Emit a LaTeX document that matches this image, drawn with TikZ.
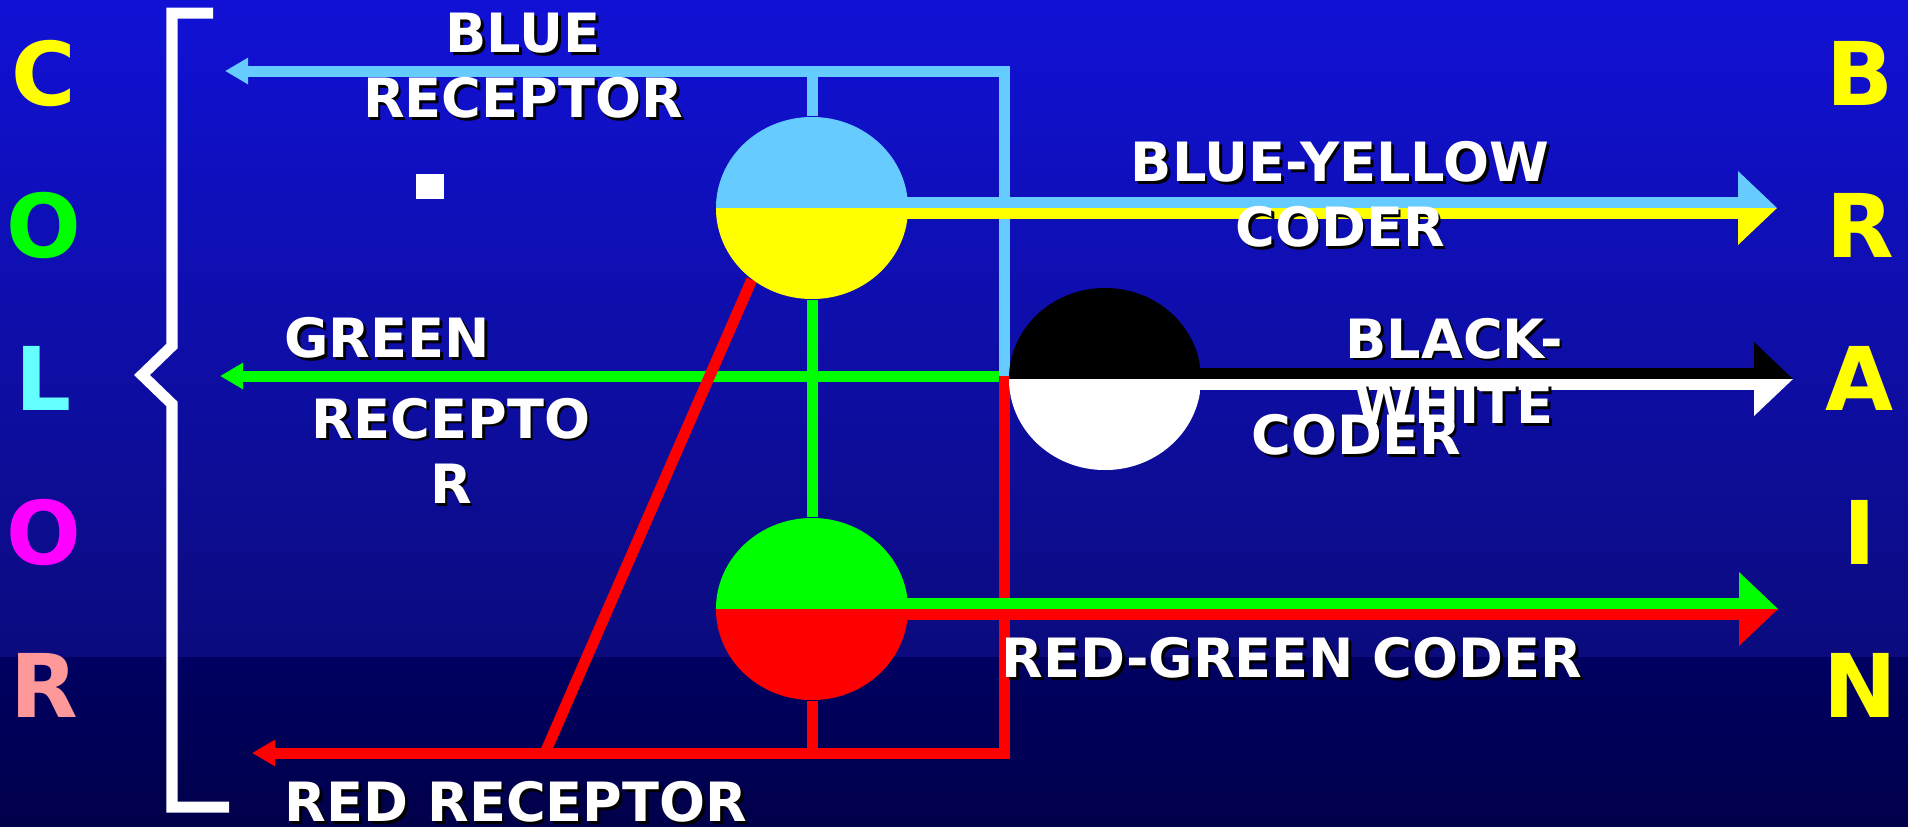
\documentclass[tikz,border=0pt]{standalone}
\usepackage{fontspec}
\setmainfont{DejaVu Sans}
\usetikzlibrary{shapes.geometric, arrows.meta, calc, backgrounds}

\definecolor{skyblue}{RGB}{102,204,255}
\definecolor{lcyan}{RGB}{102,255,255}
\definecolor{lpink}{RGB}{255,153,153}
\definecolor{pyellow}{RGB}{255,255,0}
\definecolor{pgreen}{RGB}{0,255,0}
\definecolor{pred}{RGB}{255,0,0}
\definecolor{pmagenta}{RGB}{255,0,255}
\definecolor{bgtop}{RGB}{17,17,214}
\definecolor{bgmid}{RGB}{11,11,126}
\definecolor{bglow}{RGB}{0,0,98}
\definecolor{bgbot}{RGB}{0,0,74}

\newcommand\shd[1]{\leavevmode\rlap{\kern0.8pt\raisebox{-0.8pt}{\color{black}#1}}#1}

\begin{document}
\begin{tikzpicture}[x=0.01cm, y=-0.01cm,
    wire/.style={line width=0.11cm, line join=miter},
    recv/.style={wire, -{Triangle[length=0.23cm, width=0.25cm]}},
    coder/.style 2 args={ellipse, minimum width=1.92cm, minimum height=1.82cm, inner sep=0pt,
      path picture={
        \fill[#1] (path picture bounding box.north west) rectangle (path picture bounding box.east);
        \fill[#2] (path picture bounding box.west) rectangle (path picture bounding box.south east);}},
    lbl/.style={text=white, align=center, inner sep=0pt, font=\bfseries\fontsize{15.4}{18.5}\selectfont},
    bigl/.style={inner sep=0pt, font=\bfseries\fontsize{25}{30}\selectfont},
]
\useasboundingbox (0,0) rectangle (1908,826);

% the three coders
\node[coder={skyblue}{pyellow}] (by) at (812,208) {};
\node[coder={black}{white}] (bw) at (1105,379) {};
\node[coder={pgreen}{pred}] (rg) at (812,609) {};

% wire ends
\coordinate (hub) at (1004,376);
\coordinate (bluecorner) at (1004,71);
\coordinate (bluetip) at (225,71);
\coordinate (greentip) at (220,376);
\coordinate (redcorner) at (1004,753);
\coordinate (redtip) at (252,753);
\coordinate (redfoot) at (545,753);
\coordinate (tip-by) at (1777,208);
\coordinate (tip-bw) at (1793,379);
\coordinate (tip-rg) at (1778,609);

\begin{scope}[on background layer]
  \shade[top color=bgtop, bottom color=bgmid] (0,0) rectangle (1908,657);
  \shade[top color=bglow, bottom color=bgbot] (0,657) rectangle (1908,826);

  % receptor wires
  \draw[recv, pgreen] (hub) -- (greentip);
  \draw[recv, skyblue] (hub) -- (bluecorner) -- (bluetip);
  \draw[recv, pred] (hub) -- (redcorner) -- (redtip);
  \draw[wire, skyblue] (by) -- (by |- bluecorner);
  \draw[wire, pgreen] (by) -- (rg);
  \draw[wire, pred] (rg) -- (rg |- redcorner);
  \draw[wire, pred] (redfoot) -- (by.-130);

  % coder outputs to the brain
  \foreach \n/\ca/\cb in {by/skyblue/pyellow, bw/black/white, rg/pgreen/pred} {
    \draw[wire, \ca] ($(\n.center)+(0,-5.5)$) -- ($(tip-\n)+(-39,-5.5)$);
    \draw[wire, \cb] ($(\n.center)+(0,5.5)$) -- ($(tip-\n)+(-39,5.5)$);
    \fill[\ca] (tip-\n) -- ++(-39,-37) -- ++(0,37) -- cycle;
    \fill[\cb] (tip-\n) -- ++(-39,37) -- ++(0,-37) -- cycle;
  }
\end{scope}

% bracket
\draw[wire, white] (213,13) -- (172,13) -- (172,346) -- (142,375) -- (172,404) -- (172,807) -- (229,807);
\node[fill=white, minimum width=0.27cm, minimum height=0.25cm, inner sep=0pt] (sq) at (430,186) {};

% labels
\node[lbl] (bluerec) at (523,67) {\shd{BLUE}\\\shd{RECEPTOR}};
\node[lbl] (greenname) at (387,339) {\shd{GREEN}};
\node[lbl] (greenrec) at (451,452) {\shd{RECEPTO}\\\shd{R}};
\node[lbl] (redrec) at (516,803) {\shd{RED RECEPTOR}};
\node[lbl] (bylbl) at (1340,196) {\shd{BLUE-YELLOW}\\\shd{CODER}};
\node[lbl] (bwlbl) at (1454,372) {\shd{BLACK-}\\\shd{WHITE}};
\node[lbl] (bwcoder) at (1356,436) {\shd{CODER}};
\node[lbl] (rglbl) at (1292,659) {\shd{RED-GREEN CODER}};

% side words
\foreach \ch/\col/\yy [count=\i] in {C/pyellow/73, O/pgreen/225, L/lcyan/378, O/pmagenta/532, R/lpink/685}
  \node[bigl, text=\col] (color\i) at (44,\yy) {\ch};
\foreach \ch/\yy [count=\i] in {B/73, R/225, A/378, I/532, N/685}
  \node[bigl, text=pyellow] (brain\i) at (1860,\yy) {\ch};

\end{tikzpicture}
\end{document}
